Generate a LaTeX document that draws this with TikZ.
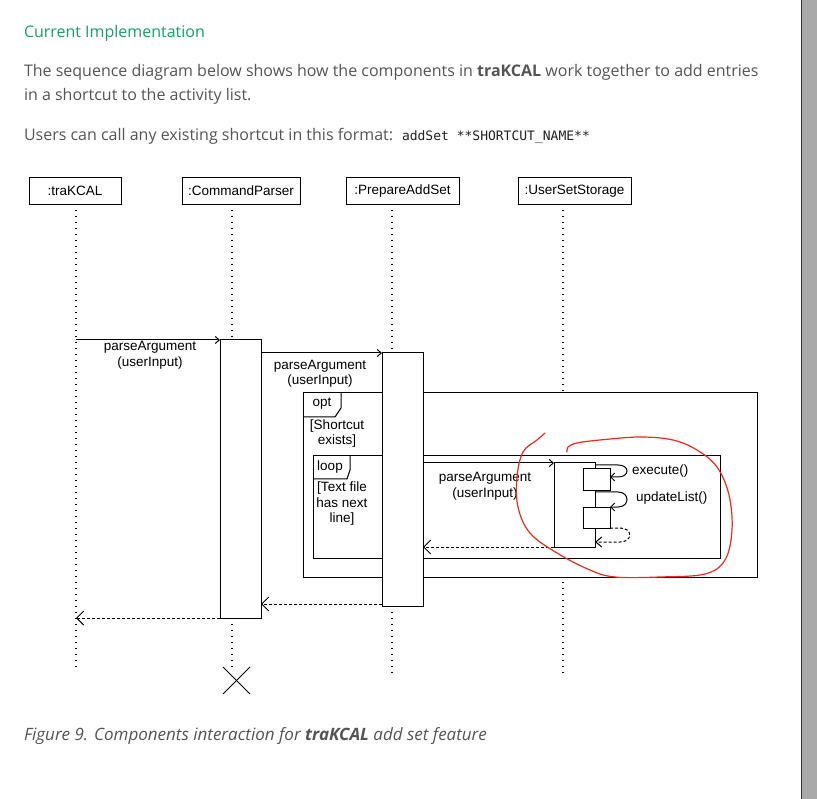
\documentclass[tikz,border=0pt]{standalone}
\usepackage{fontspec}
\setmainfont{Open Sans}
\newfontfamily\diag{Liberation Sans}
\newfontfamily\codefont{DejaVu Sans Mono}
\usetikzlibrary{arrows.meta,calc}
\definecolor{headgreen}{HTML}{1A9E68}
\definecolor{bodygray}{HTML}{555555}
\definecolor{codeblack}{HTML}{222222}
\definecolor{scrollgray}{HTML}{A9A9A9}
\definecolor{markred}{HTML}{F0281E}
\begin{document}
\begin{tikzpicture}[x=1pt,y=-1pt,
  every node/.style={inner sep=0pt, outer sep=0pt},
  para/.style={anchor=base west, font=\fontsize{16}{19}\selectfont, text=bodygray},
  obj/.style={draw, line width=1pt, fill=white, minimum height=27pt, font=\diag\fontsize{13.5}{15}\selectfont},
  lbl/.style={font=\diag\fontsize{13.5}{15.5}\selectfont, align=center},
  life/.style={line width=1.3pt, dash pattern=on 1.3pt off 4.7pt},
  act/.style={draw, line width=1pt, fill=white, anchor=north west},
  msg/.style={line width=1pt, -{Straight Barb[length=4pt,width=7pt]}},
  ret/.style={line width=1pt, dash pattern=on 3pt off 2pt, -{Straight Barb[length=7pt,width=14pt]}},
  frm/.style={draw, line width=1pt, fill=white},
]
\useasboundingbox (0,0) rectangle (817,799);
\fill[white] (0,0) rectangle (817,799);
% scrollbar
\fill[scrollgray] (801,0) rectangle (817,799);
\draw[gray!40!black, line width=1pt] (801,0) -- (801,799);

% page text
\node[anchor=base west, text=headgreen, font=\fontsize{16}{19}\selectfont] (head) at (24,38) {Current Implementation};
\node[para] (p1) at (24,77) {The sequence diagram below shows how the components in \textbf{traKCAL} work together to add entries};
\node[para] (p2) at (24,101) {in a shortcut to the activity list.};
\node[para] (p3) at (24,141) {Users can call any existing shortcut in this format:};
\node[anchor=base west, font=\codefont\fontsize{13}{15}\selectfont, text=codeblack] (code) at (402,141) {addSet **SHORTCUT\_NAME**};
\node[anchor=base west, text=bodygray, font=\fontsize{17}{20}\selectfont\itshape] (cap) at (24,740) {Figure 9. Components interaction for \textbf{traKCAL} add set feature};

% objects
\node[obj, minimum width=92pt] (tk) at (75,191) {:traKCAL};
\node[obj, minimum width=118pt] (cp) at (241,191) {:CommandParser};
\node[obj, minimum width=113pt] (pa) at (402.5,191) {:PrepareAddSet};
\node[obj, minimum width=113pt] (us) at (574.5,191) {:UserSetStorage};

% lifeline coordinates
\coordinate (tkA) at (76,210);
\coordinate (tkB) at (76,670);
\coordinate (cpA) at (232,210);
\coordinate (cpB) at (232,668);
\coordinate (paA) at (392,210);
\coordinate (paB) at (392,676);
\coordinate (usA) at (563,210);
\coordinate (usB) at (563,676);
\draw[life] (tkA) -- (tkB);
\draw[life] (cpA) -- (cpB);
\draw[life] (paA) -- (paB);
\draw[life] (usA) -- (usB);

% frames
\draw[frm] (303,393) rectangle (757,577);
\draw[line width=1pt] (303,417) -- (335,417) -- (341,408) -- (341,393);
\node[lbl] (opt) at (322,404) {opt};
\node[lbl] (g1) at (337,433.5) {[Shortcut\\ exists]};
\draw[frm] (313,456) rectangle (720,558);
\draw[line width=1pt] (313,479) -- (347,479) -- (350,470) -- (350,456);
\node[lbl] (lp) at (330,467) {loop};
\node[lbl] (g2) at (342,504) {[Text file\\has next\\ line]};

% activations
\node[act, minimum width=41pt, minimum height=278pt] (cpact) at (220,340) {};
\node[act, minimum width=41pt, minimum height=253pt] (paact) at (382,353) {};
\node[act, minimum width=41pt, minimum height=84pt] (usact) at (554,463) {};
\node[act, minimum width=27pt, minimum height=22pt] (n1) at (583,469) {};
\node[act, minimum width=27pt, minimum height=21pt] (n2) at (583,507) {};

% messages
\coordinate (m1s) at (76,340);
\draw[msg] (m1s) -- (cpact.north west);
\node[lbl] (l1) at (150,355.5) {parseArgument\\(userInput)};
\draw[msg] (cpact.east |- paact.north) -- (paact.north west);
\node[lbl] (l2) at (320,374) {parseArgument\\(userInput)};
\draw[msg] (paact.east |- usact.north) -- (usact.north west);
\node[lbl] (l3) at (485,486.5) {parseArgument\\(userInput)};

% self calls
\draw[line width=1pt, -{Straight Barb[length=4pt,width=8pt]}] (usact.east |- 0,465) -- (618,465) .. controls (630,465) and (630,477) .. (618,477) -- (n1.east |- 0,477);
\node[lbl, anchor=west] (ex) at (632,471) {execute()};
\draw[line width=1pt, -{Straight Barb[length=4pt,width=8pt]}] (usact.east |- 0,492) -- (618,492) .. controls (630,492) and (630,507) .. (618,507) -- (n2.east |- 0,507);
\node[lbl, anchor=west] (ul) at (636,498) {updateList()};
\draw[ret, -{Straight Barb[length=6pt,width=10pt]}] (n2.south east) -- (620,528) .. controls (633,528) and (633,542) .. (620,542) -- (usact.east |- 0,542);

% returns
\draw[ret] (usact.south west) -- (paact.east |- usact.south);
\draw[ret] (paact.south west |- 0,604) -- (cpact.east |- 0,604);
\draw[ret] (cpact.south west) -- (tkB |- cpact.south);

% destruction
\coordinate (xc) at (236.5,680.5);
\draw[line width=1pt] ($(xc)+(-13.5,-13.5)$) -- ($(xc)+(13.5,13.5)$);
\draw[line width=1pt] ($(xc)+(-13.5,13.5)$) -- ($(xc)+(13.5,-13.5)$);

% red mark
\draw[markred, line width=1.2pt, line cap=round] plot[smooth, tension=0.6] coordinates {(545,433) (537,440) (523,452) (517,477) (518,507) (530,533) (557,553) (590,570) (615,577) (660,577) (705,574) (725,560) (732,530) (729,495) (717,467) (697,450) (673,440) (640,437) (600,440) (577,443) (568,447) (567,452)};
\end{tikzpicture}
\end{document}
